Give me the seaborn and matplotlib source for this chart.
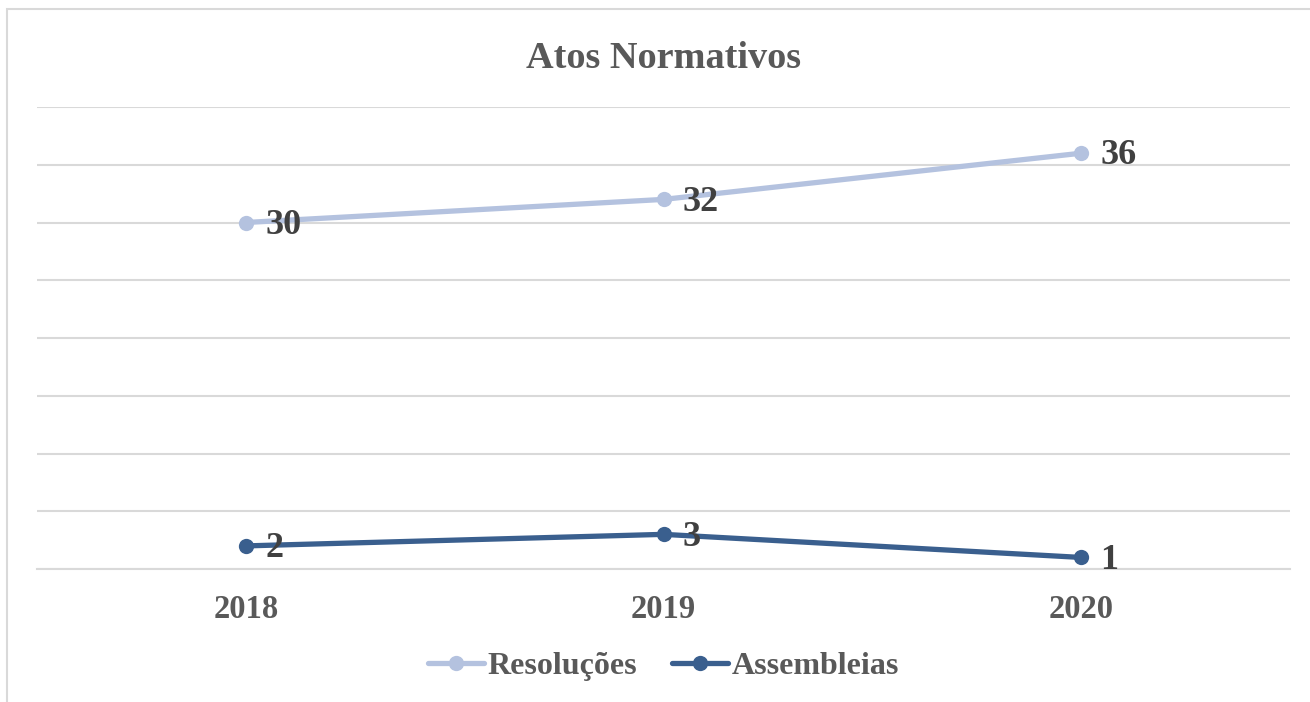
import matplotlib
matplotlib.use('Agg')
import matplotlib.pyplot as plt
import seaborn as sns
import pandas as pd
from matplotlib.patches import Rectangle

sns.set_style('white')
plt.rcParams['font.family'] = ['Liberation Serif', 'DejaVu Serif']

anos = ['2018', '2019', '2020']
resolucoes = [30, 32, 36]
assembleias = [2, 3, 1]

cor_res = '#B4C2DF'
cor_ass = '#3A5F8E'

df = pd.DataFrame({
    'ano': anos * 2,
    'valor': resolucoes + assembleias,
    'serie': ['Resoluções'] * 3 + ['Assembleias'] * 3,
})

fig = plt.figure(figsize=(13.1, 7.02), dpi=100)
ax = fig.add_axes([37 / 1310, 133 / 702, 1253 / 1310, 462 / 702])

sns.lineplot(data=df, x='ano', y='valor', hue='serie', sort=False,
             palette={'Resoluções': cor_res, 'Assembleias': cor_ass},
             marker='o', markersize=11, markeredgewidth=0, linewidth=3.8,
             ax=ax)

ax.set_xlim(-0.5, 2.5)
ax.set_ylim(0, 40)
ax.set_yticks(range(0, 41, 5))
ax.yaxis.grid(True, color='#D9D9D9', linewidth=1.5)
ax.set_yticklabels([])
ax.tick_params(axis='y', length=0)
ax.tick_params(axis='x', length=0, pad=18)
for s in ['left', 'right', 'top']:
    ax.spines[s].set_visible(False)
ax.spines['bottom'].set_color('#D9D9D9')
ax.spines['bottom'].set_linewidth(1.5)
ax.set_xlabel('')
ax.set_ylabel('')
for lbl in ax.get_xticklabels():
    lbl.set_fontsize(23.5)
    lbl.set_fontweight('bold')
    lbl.set_color('#595959')

for vals in (resolucoes, assembleias):
    for i, v in enumerate(vals):
        ax.annotate(str(v), (i, v), xytext=(14, -2), textcoords='offset points',
                    ha='left', va='center', fontsize=26, fontweight='bold',
                    color='#404040')

ax.set_title('Atos Normativos', fontsize=27.5, fontweight='bold', color='#595959', pad=28)

h, l = ax.get_legend_handles_labels()
leg = ax.legend(h, l, loc='center', bbox_to_anchor=(0.5, -0.21), ncol=2, frameon=False,
                prop={'size': 23, 'weight': 'bold'}, handlelength=1.75,
                columnspacing=1.1, handletextpad=0.1)
for t in leg.get_texts():
    t.set_color('#595959')

fig.patches.append(Rectangle((7 / 1310, -0.1), 1.2, 1.1 - 9 / 702, transform=fig.transFigure,
                             fill=False, edgecolor='#D9D9D9', linewidth=1.5))

fig.savefig('out.png', dpi=100)
